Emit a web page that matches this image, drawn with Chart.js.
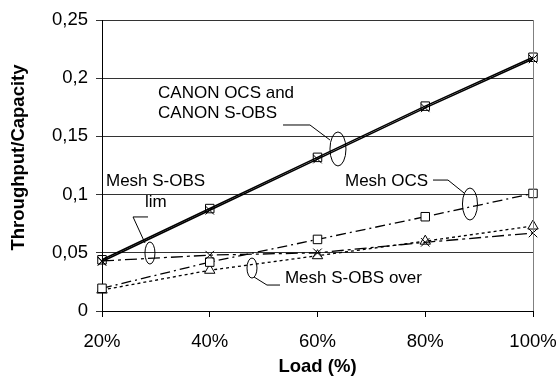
<!DOCTYPE html>
<html>
<head>
<meta charset="utf-8">
<script src="https://cdn.jsdelivr.net/npm/chart.js@4/dist/chart.umd.min.js"></script>
<style>
  html, body { margin: 0; padding: 0; background: #fff; }
  #wrap { width: 560px; height: 377px; }
</style>
</head>
<body>
<div id="wrap"><canvas id="c" width="560" height="377"></canvas></div>
<script>
// ---- data ----
const categories = ['20%', '40%', '60%', '80%', '100%'];
const yTickLabels = ['0', '0,05', '0,1', '0,15', '0,2', '0,25'];
const canonOcs = [0.044, 0.088, 0.132, 0.176, 0.218];
const canonSobs = [0.0425, 0.0865, 0.1305, 0.1745, 0.2165];
const meshOcs = [0.0195, 0.042, 0.0615, 0.081, 0.101];
const meshSobsLim = [0.043, 0.048, 0.050, 0.059, 0.067];
const meshSobsOver = [0.018, 0.035, 0.0475, 0.060, 0.073];

const FONT = '"Liberation Sans", Arial, sans-serif';
const yTitle = 'Throughput/Capacity';

// annotations (positions in category-index / value units)
const annoTexts = [
  { text: 'CANON OCS and', u: 0.52, v: 0.183 },
  { text: 'CANON S-OBS', u: 0.52, v: 0.1658 },
  { text: 'Mesh OCS', u: 2.255, v: 0.1074 },
  { text: 'Mesh S-OBS', u: 0.037, v: 0.1074 },
  { text: 'lim', u: 0.399, v: 0.0893 },
  { text: 'Mesh S-OBS over', u: 1.698, v: 0.0241 }
];
const annoLeaders = [
  [[1.680, 0.1598], [1.930, 0.1598], [2.116, 0.1469]],
  [[3.072, 0.1125], [3.211, 0.1125], [3.360, 0.1014]],
  [[0.427, 0.0808], [0.288, 0.0808], [0.399, 0.0584]],
  [[1.652, 0.0223], [1.531, 0.0223], [1.411, 0.0292]]
];
const annoEllipses = [
  { u: 2.190, v: 0.1392, rx: 8, ry: 17 },
  { u: 3.415, v: 0.0919, rx: 7.5, ry: 16 },
  { u: 0.445, v: 0.0498, rx: 5, ry: 11 },
  { u: 1.392, v: 0.0369, rx: 5, ry: 10 }
];

const annotationPlugin = {
  id: 'annos',
  afterDatasetsDraw(chart) {
    const ctx = chart.ctx;
    const xs = chart.scales.x, ys = chart.scales.y;
    const px = u => xs.getPixelForValue(0) + u * (xs.getPixelForValue(1) - xs.getPixelForValue(0));
    const py = v => ys.getPixelForValue(v);
    const a = chart.chartArea;
    ctx.save();
    // right border of plot area
    ctx.strokeStyle = '#808080';
    ctx.lineWidth = 1;
    ctx.beginPath();
    ctx.moveTo(Math.round(a.right) + 0.5, a.top);
    ctx.lineTo(Math.round(a.right) + 0.5, a.bottom);
    ctx.stroke();

    ctx.strokeStyle = '#000';
    ctx.lineWidth = 1;
    annoLeaders.forEach(pts => {
      ctx.beginPath();
      pts.forEach((p, i) => {
        const x = px(p[0]), y = py(p[1]);
        if (i === 0) ctx.moveTo(x, y); else ctx.lineTo(x, y);
      });
      ctx.stroke();
    });
    annoEllipses.forEach(e => {
      ctx.beginPath();
      ctx.ellipse(px(e.u), py(e.v), e.rx, e.ry, 0, 0, Math.PI * 2);
      ctx.stroke();
    });
    ctx.fillStyle = '#000';
    ctx.font = '17px ' + FONT;
    ctx.textBaseline = 'alphabetic';
    ctx.textAlign = 'left';
    annoTexts.forEach(t => {
      ctx.fillText(t.text, px(t.u), py(t.v));
    });

    // y axis title
    ctx.save();
    ctx.translate(19, a.top + (a.bottom - a.top) / 2 - 8);
    ctx.rotate(-Math.PI / 2);
    ctx.font = 'bold 18.5px ' + FONT;
    ctx.textAlign = 'center';
    ctx.textBaseline = 'middle';
    ctx.fillText(yTitle, 0, 0);
    ctx.restore();
    ctx.restore();
  }
};

const common = {
  borderColor: '#000',
  pointBorderColor: '#000',
  pointBackgroundColor: '#fff',
  pointBorderWidth: 1,
  pointRadius: 6,
  fill: false,
  tension: 0
};

new Chart(document.getElementById('c'), {
  type: 'line',
  data: {
    labels: categories,
    datasets: [
      Object.assign({}, common, { label: 'CANON S-OBS', data: canonSobs, borderWidth: 1.6, pointStyle: 'crossRot', pointBackgroundColor: 'rgba(0,0,0,0)' }),
      Object.assign({}, common, { label: 'CANON OCS', data: canonOcs, borderWidth: 1.6, pointStyle: 'rect', pointBackgroundColor: 'rgba(0,0,0,0)' }),
      Object.assign({}, common, { label: 'Mesh S-OBS lim', data: meshSobsLim, borderWidth: 1.3, borderDash: [12, 4, 3, 4], pointStyle: 'crossRot', pointBackgroundColor: 'rgba(0,0,0,0)' }),
      Object.assign({}, common, { label: 'Mesh OCS', data: meshOcs, borderWidth: 1.3, borderDash: [10, 4, 2, 4], pointStyle: 'rect' }),
      Object.assign({}, common, { label: 'Mesh S-OBS over', data: meshSobsOver, borderWidth: 1.3, borderDash: [3, 3], pointStyle: 'triangle' })
    ]
  },
  options: {
    responsive: false,
    animation: false,
    devicePixelRatio: 1,
    layout: { padding: { top: 20, right: 27, left: 0, bottom: 0 } },
    plugins: { legend: { display: false }, tooltip: { enabled: false } },
    scales: {
      x: {
        offset: false,
        grid: { drawOnChartArea: false, color: '#000', tickLength: 6, lineWidth: 1 },
        border: { color: '#000', width: 1 },
        ticks: { color: '#000', font: { family: FONT, size: 18.5 }, padding: 14, maxRotation: 0 },
        title: { display: true, text: 'Load (%)', color: '#000', font: { family: FONT, size: 18.5, weight: 'bold', lineHeight: 1.1 }, padding: { top: 0, bottom: 0 } },
        afterFit: s => { s.height = 66; s.paddingRight = 0; s.paddingLeft = 0; }
      },
      y: {
        min: 0, max: 0.25,
        grid: { color: '#333', tickLength: 6, lineWidth: 1 },
        border: { color: '#000', width: 1 },
        ticks: {
          stepSize: 0.05, color: '#000', padding: 8,
          font: { family: FONT, size: 18.5 },
          callback: (v, i) => yTickLabels[i]
        },
        title: { display: false },
        afterFit: s => { s.width = 102; s.paddingTop = 0; s.paddingBottom = 0; }
      }
    }
  },
  plugins: [annotationPlugin]
});
</script>
</body>
</html>
